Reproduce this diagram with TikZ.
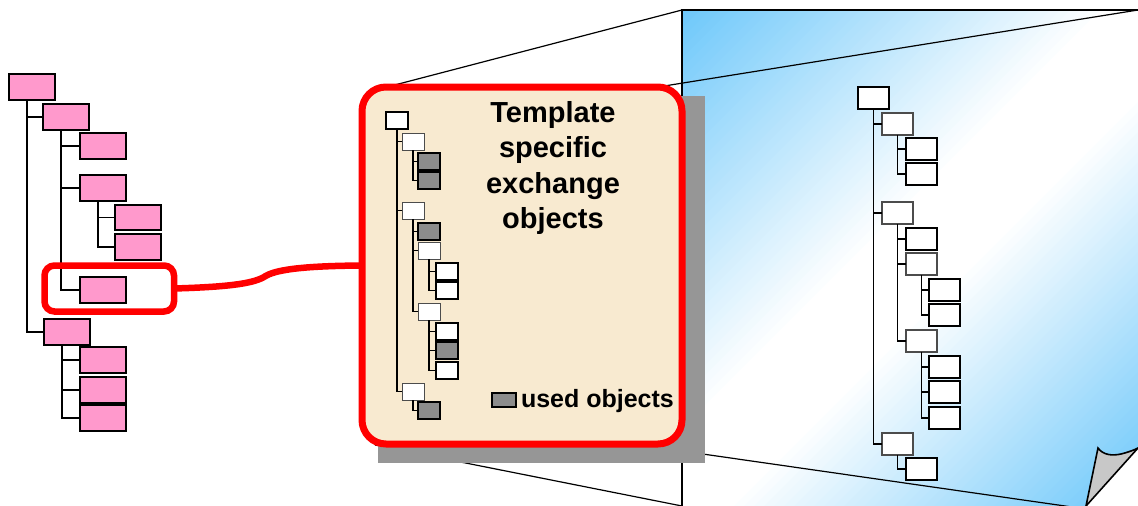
\documentclass[tikz,border=0pt]{standalone}
\usepackage{fontspec}
\setmainfont{Liberation Sans}
\definecolor{pageblue}{HTML}{6EC8FA}
\definecolor{pinkfill}{HTML}{FF99CC}
\definecolor{paper}{HTML}{F8EAD0}
\definecolor{shadowgray}{HTML}{969696}
\definecolor{usedgray}{HTML}{8C8C8C}
\definecolor{curlgray}{HTML}{C8C8C8}
\definecolor{selred}{HTML}{FF0000}
\begin{document}
\begin{tikzpicture}[x=1pt,y=-1pt,
  pinkbox/.style={draw=black, line width=1.8pt, fill=pinkfill, minimum width=46pt,
    minimum height=26pt, anchor=north west, inner sep=0pt, outer sep=0pt},
  mbox/.style={fill=white, minimum width=22pt, minimum height=17pt,
    anchor=north west, inner sep=0pt, outer sep=0pt},
  mstrong/.style={mbox, draw=black, line width=1.6pt},
  mlight/.style={mbox, draw=black!70, line width=1pt},
  mused/.style={mbox, fill=usedgray, draw=black, line width=1.6pt},
  rbox/.style={fill=white, minimum width=31pt, minimum height=22pt,
    anchor=north west, inner sep=0pt, outer sep=0pt},
  rstrong/.style={rbox, draw=black, line width=2.2pt},
  rlight/.style={rbox, draw=black!70, line width=1.2pt},
  pinkline/.style={draw=black, line width=1.6pt},
  treeline/.style={draw=black, line width=1.1pt},
  redline/.style={draw=selred, line width=6.5pt},
  persp/.style={draw=black, line width=1.2pt},
  label/.style={font=\bfseries, inner sep=0pt, outer sep=0pt}
]
\useasboundingbox (0,0) rectangle (1138,506);
\clip (0,0) rectangle (1138,506);

% ---------- the page on the right, with its curled corner ----------
\coordinate (pTL) at (682,10);
\coordinate (pTR) at (1138,10);
\coordinate (pBL) at (682,506);
\coordinate (pR)  at (1138,448);
\coordinate (pB)  at (1086,506);
\begin{scope}
  \clip (pTL) -- (pTR) -- (pR) -- (pB) -- (pBL) -- cycle;
  % diagonal blue-white-blue gradient, built from thin bands (u = x + y)
  \foreach \i in {0,...,100} {
    \pgfmathsetmacro{\u}{690+10*\i}
    \pgfmathsetmacro{\f}{\u<1110 ? (1110-\u)/4.2 : (\u>1230 ? min(92,(\u-1230)/4) : 0)}
    \fill[pageblue!\f!white] (\u,0) -- (\u+11,0) -- (\u+11-600,600) -- (\u-600,600) -- cycle;
  }
\end{scope}
\draw[line width=2.5pt] (pBL) -- (pTL) -- (pTR);
\filldraw[fill=curlgray, draw=black, line width=1.6pt]
  (1098,448) .. controls (1103,455) and (1112,456) .. (1121,454)
  .. controls (1129,452) and (1134,450) .. (pR) -- (pB) -- cycle;

% ---------- projection lines from the detail box to the page ----------
\coordinate (bTL) at (387,87);
\coordinate (bTR) at (658,87);
\coordinate (bBL) at (375,445);
\coordinate (bBR) at (633,444);
\coordinate (pBR) at (1072,507);
\draw[persp] (bTL) -- (pTL);
\draw[persp] (bTR) -- (pTR);
\draw[persp] (bBL) -- (pBL);
\draw[persp] (bBR) -- (pBR);

% ---------- detail box with its shadow ----------
\fill[shadowgray] (378,96) rectangle (705,463);
\node[draw=selred, line width=7pt, fill=paper, rounded corners=24pt,
  minimum width=320pt, minimum height=357pt, inner sep=0pt, outer sep=0pt]
  (big) at (522,265.5) {};

\node[label, anchor=north, align=center, font=\bfseries\fontsize{29}{35.5}\selectfont]
  (title) at (553,101) {Template\\specific\\exchange\\objects};

\node[mused, minimum width=24pt, minimum height=14pt] (legbox) at (492,393) {};
\node[label, anchor=base west, font=\bfseries\fontsize{25}{30}\selectfont]
  (legtext) at (521,407) {used objects};

% ---------- tree inside the detail box ----------
\node[mstrong] (m0)  at (386,112) {};
\node[mlight]  (m1)  at (402,133) {};
\node[mused]   (m2)  at (418,153) {};
\node[mused]   (m3)  at (418,172) {};
\node[mlight]  (m4)  at (402,202) {};
\node[mused]   (m5)  at (418,223) {};
\node[mlight]  (m6)  at (418,242) {};
\node[mstrong] (m7)  at (436,263) {};
\node[mstrong] (m8)  at (436,282) {};
\node[mlight]  (m9)  at (418,303) {};
\node[mstrong] (m10) at (436,323) {};
\node[mused]   (m11) at (436,342) {};
\node[mstrong] (m12) at (436,362) {};
\node[mlight]  (m13) at (402,383) {};
\node[mused]   (m14) at (418,402) {};
\foreach \p/\c in {m0/m1, m0/m4, m0/m13, m1/m2, m1/m3, m4/m5, m4/m6, m4/m9,
                   m6/m7, m6/m8, m9/m10, m9/m11, m9/m12, m13/m14}
  \draw[treeline] (\p.south) |- (\c.west);

% ---------- tree on the page ----------
\node[rstrong] (r0)  at (858,87) {};
\node[rlight]  (r1)  at (882,113) {};
\node[rstrong] (r2)  at (906,138) {};
\node[rstrong] (r3)  at (906,163) {};
\node[rlight]  (r4)  at (882,202) {};
\node[rstrong] (r5)  at (906,228) {};
\node[rlight]  (r6)  at (906,253) {};
\node[rstrong] (r7)  at (929,279) {};
\node[rstrong] (r8)  at (929,304) {};
\node[rlight]  (r9)  at (906,330) {};
\node[rstrong] (r10) at (929,356) {};
\node[rstrong] (r11) at (929,381) {};
\node[rstrong] (r12) at (929,407) {};
\node[rlight]  (r13) at (882,433) {};
\node[rstrong] (r14) at (906,458) {};
\foreach \p/\c in {r0/r1, r0/r4, r0/r13, r1/r2, r1/r3, r4/r5, r4/r6, r4/r9,
                   r6/r7, r6/r8, r9/r10, r9/r11, r9/r12, r13/r14}
  \draw[treeline] (\p.south) |- (\c.west);

% ---------- pink tree on the left ----------
\node[pinkbox] (A) at (9,74) {};
\node[pinkbox] (B) at (43,104) {};
\node[pinkbox] (C) at (80,133) {};
\node[pinkbox] (D) at (80,175) {};
\node[pinkbox, minimum height=25pt] (E) at (115,205) {};
\node[pinkbox] (F) at (115,234) {};
\node[pinkbox] (G) at (80,277) {};
\node[pinkbox] (H) at (44,319) {};
\node[pinkbox] (I) at (80,347) {};
\node[pinkbox] (J) at (80,377) {};
\node[pinkbox] (K) at (80,405) {};
\foreach \p/\c in {A/B, A/H, B/C, B/D, B/G, D/E, D/F, H/I, H/J, H/K}
  \draw[pinkline] ([xshift=-5pt]\p.south) |- (\c.west);

% ---------- selection and its link to the detail box ----------
\node[draw=selred, line width=6.5pt, rounded corners=10pt, minimum width=129.5pt,
  minimum height=46pt, inner sep=0pt, outer sep=0pt] (sel) at (109.25,288.5) {};
\draw[redline] (sel.east) .. controls (225,287) and (252,284) .. (264,277)
  .. controls (274,270) and (300,266) .. (big.west);
\end{tikzpicture}
\end{document}
